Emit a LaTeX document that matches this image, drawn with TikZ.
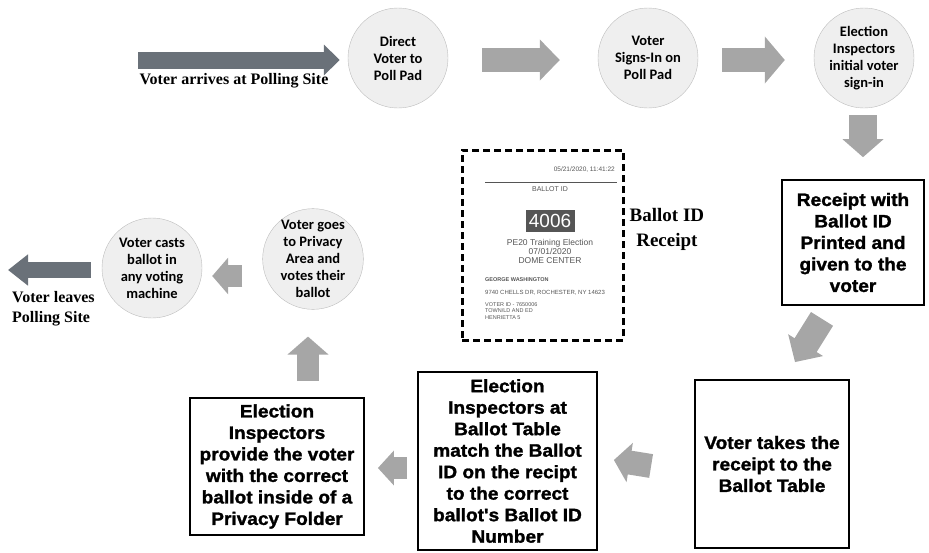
\documentclass[tikz,border=0pt]{standalone}
\usepackage{fontspec}
\setmainfont{Liberation Serif}
\newfontfamily\circfont{Carlito}
\newfontfamily\heavyfont[FakeStretch=1.06,FakeBold=1.5]{Liberation Sans}
\newfontfamily\slipfont{Liberation Sans}
\usetikzlibrary{positioning,arrows.meta}
\definecolor{stepfill}{HTML}{EFEFEF}
\definecolor{stepline}{HTML}{BDBDBD}
\definecolor{flowgray}{HTML}{A6A6A6}
\definecolor{sitegray}{HTML}{6A7179}
\definecolor{inkgray}{HTML}{555555}

\begin{document}
\begin{tikzpicture}[x=1pt, y=-1pt,
				station/.style={circle, draw=stepline, fill=stepfill, minimum size=100pt, inner sep=0pt, align=center, font={\circfont\bfseries\fontsize{14.5}{17}\selectfont}},
				task/.style={rectangle, draw=black, line width=1.8pt, inner sep=0pt, align=center, font={\heavyfont\bfseries\fontsize{18}{21.5}\selectfont}},
				note/.style={inner sep=0pt, font={\bfseries\fontsize{16}{20}\selectfont}},
				flow/.style={draw=flowgray, line width=24pt, -{Triangle[length=20pt,width=40pt]}},
				site/.style={draw=sitegray, line width=17pt, -{Triangle[length=16pt,width=30pt]}},
				slipline/.style={inner sep=0pt, text=inkgray, font={\slipfont\fontsize{6}{7}\selectfont}}
			]
			\useasboundingbox (0,0) rectangle (929,552);
			% steps at the poll pad
			\node[station] (direct) at (398,58) {Direct\\Voter to\\Poll Pad};
			\node[station] (signin) at (648,58) {Voter\\Signs-In on\\Poll Pad};
			\node[station] (initial) at (864,58) {Election\\Inspectors\\initial voter\\sign-in};
			% ballot table
			\node[task, minimum width=142pt, minimum height=125pt] (receipt) at (853,242.5) {Receipt with\\Ballot ID\\Printed and\\given to the\\voter};
			\node[task, minimum width=154pt, minimum height=168pt] (take) at (772,464) {Voter takes the\\receipt to the\\Ballot Table};
			\node[task, minimum width=179pt, minimum height=178pt] (match) at (507.5,461) {Election\\Inspectors at\\Ballot Table\\match the Ballot\\ID on the recipt\\to the correct\\ballot's Ballot ID\\Number};
			\node[task, minimum width=174pt, minimum height=137pt] (provide) at (277,466.5) {Election\\Inspectors\\provide the voter\\with the correct\\ballot inside of a\\Privacy Folder};
			% voting
			\node[station] (privacy) at (313,259) {Voter goes\\to Privacy\\Area and\\votes their\\ballot};
			\node[station] (cast) at (152,268) {Voter casts\\ballot in\\any voting\\machine};
			\coordinate (arrive) at (138,60);
			\coordinate (exit) at (8,270);
			\node[note] (arrivetext) at (234,81) {Voter arrives at Polling Site};
			\node[note, align=left, anchor=north west] (leavetext) at (12,291) {Voter leaves\\Polling Site};
			% the receipt
			\node[draw=black, line width=3pt, dash pattern=on 7pt off 4pt, minimum width=161pt, minimum height=190pt] (slip) at (542.5,245) {};
			\node[slipline, anchor=east, font={\slipfont\fontsize{6.5}{7}\selectfont}] (stamp) at (615,170) {05/21/2020, 11:41:22};
			\coordinate (rulea) at (485,182);
			\coordinate (ruleb) at (617,182);
			\draw[inkgray, line width=0.9pt] (rulea) -- (ruleb);
			\node[slipline, font={\slipfont\fontsize{7}{8}\selectfont}] (idhead) at (550,189) {BALLOT ID};
			\node[fill=inkgray, text=white, minimum width=49pt, minimum height=22pt, inner sep=0pt, font={\slipfont\fontsize{19}{20}\selectfont}] (idnum) at (550,221) {4006};
			\node[slipline, align=center, anchor=north, font={\slipfont\fontsize{8.5}{9.3}\selectfont}] (election) at (550,239) {PE20 Training Election\\07/01/2020\\DOME CENTER};
			\node[slipline, anchor=west, font={\slipfont\bfseries\fontsize{5.5}{6.5}\selectfont}] (voter) at (485,280) {GEORGE WASHINGTON};
			\node[slipline, anchor=west] (street) at (485,293) {9740 CHELLS DR, ROCHESTER, NY 14623};
			\node[slipline, anchor=north west, align=left, font={\slipfont\fontsize{5.5}{6.5}\selectfont}] (district) at (485,302) {VOTER ID - 7650006\\TOWN/LD AND ED\\HENRIETTA 5};
			\node[note, align=center, anchor=west, font={\bfseries\fontsize{19}{25}\selectfont}] (sliptext) [right=5pt of slip, yshift=16pt] {Ballot ID\\Receipt};
			% block arrows
			\draw[site] (arrive) -- ([xshift=-8pt, yshift=-2pt]direct.west);
			\draw[flow] ([xshift=34pt, yshift=-2pt]direct.east) -- ([xshift=-38pt, yshift=-2pt]signin.west);
			\draw[flow, -{Triangle[length=20pt,width=46pt]}] ([xshift=24pt, yshift=-2pt]signin.east) -- ([xshift=-29pt, yshift=-2pt]initial.west);
			\draw[flow, line width=28pt, -{Triangle[length=18pt,width=40pt]}] ([xshift=-1pt, yshift=-7pt]initial.south) -- ([xshift=-1pt, yshift=-49pt]initial.south);
			\draw[flow, line width=26pt] ([xshift=-31pt, yshift=-13pt]receipt.south) -- ([xshift=23pt, yshift=17pt]take.north);
			\draw[flow, -{Triangle[length=16pt,width=39pt]}] ([xshift=-43pt, yshift=-2pt]take.west) -- ([xshift=16pt, yshift=1pt]match.east);
			\draw[flow, line width=22pt, -{Triangle[length=16pt,width=34pt]}] ([xshift=-10pt, yshift=-7pt]match.west) -- ([xshift=13pt, yshift=-1.5pt]provide.east);
			\draw[flow, line width=22pt, -{Triangle[length=18pt,width=40pt]}] ([xshift=31pt, yshift=16pt]provide.north) -- ([xshift=-5pt, yshift=-27pt]privacy.south);
			\draw[flow, line width=22pt, -{Triangle[length=16pt,width=36pt]}] ([xshift=-20pt, yshift=-17pt]privacy.west) -- ([xshift=10pt, yshift=-8pt]cast.east);
			\draw[site, line width=16pt, -{Triangle[length=20pt,width=30pt]}] ([xshift=-11pt, yshift=-2pt]cast.west) -- (exit);
			\end{tikzpicture}
\end{document}
